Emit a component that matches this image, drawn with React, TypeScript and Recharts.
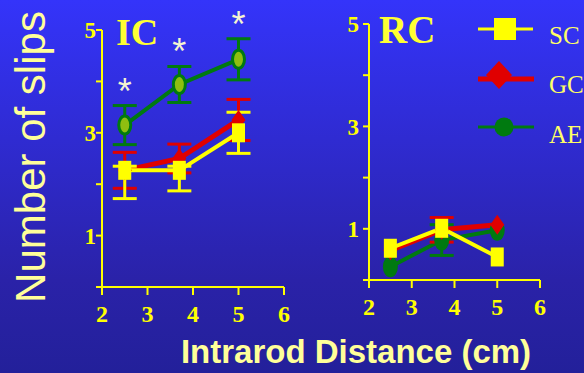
import { ErrorBar, LabelList, Line, LineChart, XAxis, YAxis } from 'recharts';

const distances = [2.5, 3.7, 5];
const xTicks = [2, 3, 4, 5, 6];
const yTicks = [0, 1, 2, 3, 4, 5];

// IC panel ([down, up] where the upper whisker is hidden in the reference)
const icSC = [2.27, 2.27, 3.0];
const icSCErr: any[] = [[0.55, 0.08], [0.4, 0.08], 0.4];
const icGC = [2.27, 2.5, 3.25];
const icGCErr = [0.35, 0.28, 0.4];
const icAE = [3.15, 3.94, 4.43];
const icAEErr = [0.38, 0.35, 0.4];

// RC panel (null = whisker not visible)
const rcSC = [0.62, 1.01, 0.45];
const rcSCErr = [null, null, null];
const rcGC = [0.58, 0.98, 1.08];
const rcGCErr = [null, 0.24, null];
const rcAE = [0.26, 0.78, 0.97];
const rcAEErr = [null, 0.3, null];

const YELLOW = '#ffff00';
const RED = '#e00000';
const GREEN = '#007a10';

const build = (sc: number[], scErr: any[], gc: number[], gcErr: any[], ae: number[], aeErr: any[]) =>
  distances.map((d, i) => ({ x: d, sc: sc[i], scErr: scErr[i], gc: gc[i], gcErr: gcErr[i], ae: ae[i], aeErr: aeErr[i] }));

const icData = build(icSC, icSCErr, icGC, icGCErr, icAE, icAEErr);
const rcData = build(rcSC, rcSCErr, rcGC, rcGCErr, rcAE, rcAEErr);

const SquareDot = (p: any) => (
  <rect key={`sq-${p.index}`} x={p.cx - 6.5} y={p.cy - 9.5} width={13} height={19} fill={YELLOW} />
);
const DiamondDot = (p: any) => (
  <polygon key={`dm-${p.index}`} points={`${p.cx},${p.cy - 10} ${p.cx + 7},${p.cy} ${p.cx},${p.cy + 10} ${p.cx - 7},${p.cy}`} fill={RED} />
);
const circleDot = (fill: string) => (p: any) => (
  <ellipse key={`ae-${p.index}`} cx={p.cx} cy={p.cy} rx={6} ry={9} fill={fill} stroke={GREEN} strokeWidth={3} />
);

const tickY = (v: number) => (v % 2 === 1 ? String(v) : '');

function Panel({ data, width, margin, aeFill, stars, yTickMargin }: any) {
  const unit = (373 - margin.top - margin.bottom - 40) / 5;
  const Star = (p: any) => (
    <text key={`st-${p.index}`} x={p.x} y={p.y - p.value * unit - 2} textAnchor="middle" fontSize={36} fill="#f4f4d0" fontFamily="Liberation Sans">*</text>
  );
  return (
    <LineChart width={width} height={373} data={data} margin={margin}>
      <XAxis
        dataKey="x"
        type="number"
        domain={[2, 6]}
        ticks={xTicks}
        height={40}
        stroke={YELLOW}
        strokeWidth={2}
        tickSize={8}
        tickMargin={10}
        interval={0}
        tick={{ fill: YELLOW, fontSize: 24, fontWeight: 'bold', fontFamily: 'Liberation Serif' }}
      />
      <YAxis
        type="number"
        domain={[0, 5]}
        ticks={yTicks}
        width={40}
        stroke={YELLOW}
        strokeWidth={2}
        tickSize={6}
        tickMargin={yTickMargin}
        interval={0}
        tickFormatter={tickY}
        tick={{ fill: YELLOW, fontSize: 23, fontWeight: 'bold', fontFamily: 'Liberation Serif' }}
      />
      <Line dataKey="ae" stroke={GREEN} strokeWidth={4} dot={circleDot(aeFill)} activeDot={false} isAnimationActive={false}>
        <ErrorBar dataKey="aeErr" direction="y" width={12} strokeWidth={3} stroke={GREEN} />
        {stars && <LabelList dataKey="aeErr" content={Star} />}
      </Line>
      <Line dataKey="gc" stroke={RED} strokeWidth={5} dot={DiamondDot} activeDot={false} isAnimationActive={false}>
        <ErrorBar dataKey="gcErr" direction="y" width={12} strokeWidth={3} stroke={RED} />
      </Line>
      <Line dataKey="sc" stroke={YELLOW} strokeWidth={4} dot={SquareDot} activeDot={false} isAnimationActive={false}>
        <ErrorBar dataKey="scErr" direction="y" width={12} strokeWidth={3} stroke={YELLOW} />
      </Line>
    </LineChart>
  );
}

export default function App() {
  return (
    <div
      style={{
        position: 'absolute',
        left: 0,
        top: 0,
        width: 584,
        height: 373,
        overflow: 'hidden',
        background: 'linear-gradient(#3434fa, #2a22a8 75%, #23209a)',
      }}
    >
      <div style={{ position: 'absolute', left: 0, top: 0 }}>
        <Panel data={icData} width={300} margin={{ top: 30, right: 16, bottom: 46, left: 62 }} aeFill="#8fbf10" stars yTickMargin={0} />
      </div>
      <div style={{ position: 'absolute', left: 300, top: 0 }}>
        <Panel data={rcData} width={284} margin={{ top: 24, right: 44, bottom: 53, left: 29 }} aeFill={GREEN} stars={false} yTickMargin={4} />
      </div>
      <svg width={584} height={373} style={{ position: 'absolute', left: 0, top: 0, pointerEvents: 'none' }}>
        <text x={116} y={45} fontSize={38} fontWeight="bold" fill="#ffff33" fontFamily="Liberation Serif">IC</text>
        <text x={379} y={43} fontSize={39} fontWeight="bold" fill="#ffff33" fontFamily="Liberation Serif">RC</text>
        <text transform="translate(45,157) rotate(-90)" textAnchor="middle" fontSize={42} fill="#ffff99" fontFamily="Liberation Sans">
          Number of slips
        </text>
        <text x={356} y={363} textAnchor="middle" fontSize={33} fontWeight="bold" fill="#ffff99" fontFamily="Liberation Sans">
          Intrarod Distance (cm)
        </text>
        <line x1={478} x2={533} y1={29} y2={29} stroke={YELLOW} strokeWidth={3} />
        <rect x={494} y={18} width={22} height={22} fill={YELLOW} />
        <text x={549} y={44} fontSize={25} fill="#ffff66" fontFamily="Liberation Serif">SC</text>
        <line x1={478} x2={534} y1={79} y2={79} stroke={RED} strokeWidth={5} />
        <polygon points="499,61 512,75 499,89 486,75" fill={RED} />
        <text x={549} y={93} fontSize={25} fill="#ffff66" fontFamily="Liberation Serif">GC</text>
        <line x1={478} x2={534} y1={127} y2={127} stroke={GREEN} strokeWidth={3} />
        <circle cx={504} cy={127} r={9.5} fill={GREEN} />
        <text x={549} y={143} fontSize={25} fill="#ffff66" fontFamily="Liberation Serif">AE</text>
      </svg>
    </div>
  );
}
